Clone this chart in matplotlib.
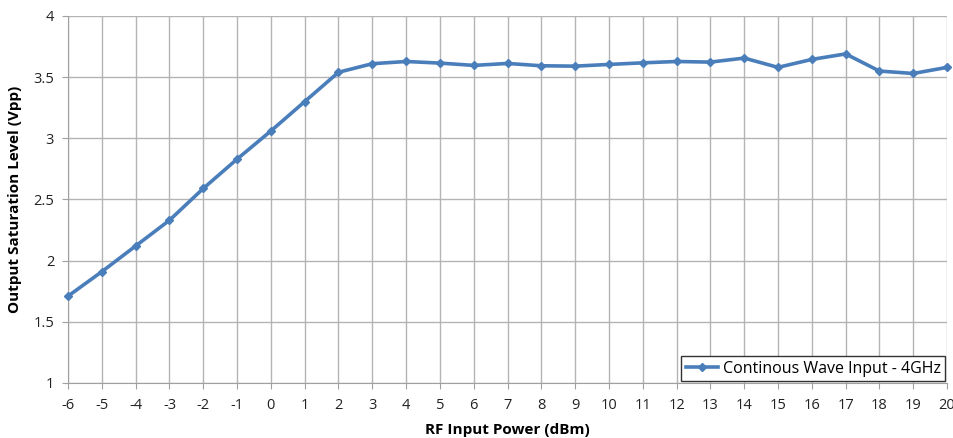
import matplotlib
matplotlib.use('Agg')
import matplotlib.pyplot as plt

plt.rcParams['font.family'] = ['Open Sans', 'DejaVu Sans']

# RF input power (dBm) and measured output saturation level (Vpp)
rf_power = list(range(-6, 21))
vsat = [1.71, 1.91, 2.12, 2.33, 2.59, 2.83, 3.06, 3.30, 3.54,
        3.61, 3.628, 3.615, 3.596, 3.612, 3.593, 3.59, 3.604, 3.617,
        3.628, 3.623, 3.656, 3.58, 3.645, 3.69, 3.55, 3.53, 3.58]
yticks = [1, 1.5, 2, 2.5, 3, 3.5, 4]
ytick_labels = ['1', '1.5', '2', '2.5', '3', '3.5', '4']

fig = plt.figure(figsize=(9.54, 4.38), dpi=100)
ax = fig.add_axes([0.0713, 0.1256, 0.9214, 0.8379])

ax.plot(rf_power, vsat, color='#4a7ebb', lw=2.6, marker='D', ms=4.5,
        label='Continous Wave Input - 4GHz', clip_on=False, zorder=3)

ax.set_xlim(-6, 20)
ax.set_ylim(1, 4)
ax.set_xticks(rf_power)
ax.set_xticklabels([str(v) for v in rf_power])
ax.set_yticks(yticks)
ax.set_yticklabels(ytick_labels)
ax.grid(True, color='#b4b4b4', lw=1)
ax.set_axisbelow(True)

for s in ['top', 'right']:
    ax.spines[s].set_visible(False)
for s in ['left', 'bottom']:
    ax.spines[s].set_color('#a0a0a0')
ax.tick_params(axis='both', colors='#a0a0a0', labelcolor='#222222',
               labelsize=10.5, length=4)
ax.tick_params(axis='x', pad=7)
ax.tick_params(axis='y', pad=6)

ax.set_xlabel('RF Input Power (dBm)', fontsize=11, fontweight='bold', labelpad=7)
ax.set_ylabel('Output Saturation Level (Vpp)', fontsize=11, fontweight='bold', labelpad=8)

leg = ax.legend(loc='lower right', fontsize=11.5, fancybox=False, framealpha=1,
                borderpad=0.3, handlelength=2.0, handletextpad=0.3, borderaxespad=0.1)
leg.get_frame().set_edgecolor('#333333')
leg.get_frame().set_linewidth(1)

fig.savefig('out.png', dpi=100)
